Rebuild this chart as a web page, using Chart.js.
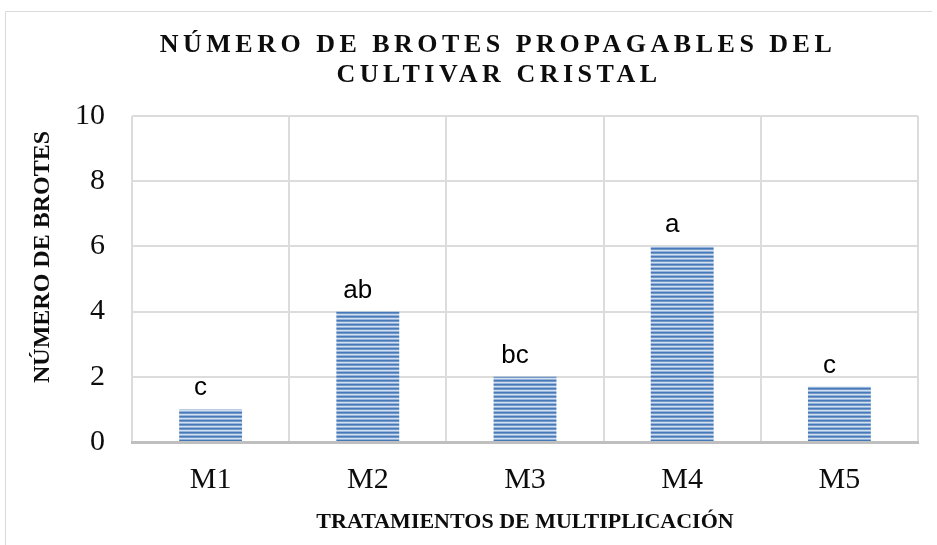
<!DOCTYPE html>
<html>
<head>
<meta charset="utf-8">
<script src="https://cdn.jsdelivr.net/npm/chart.js@4.4.1/dist/chart.umd.min.js"></script>
<style>
  html, body { margin: 0; padding: 0; background: #fff; }
  #wrap { width: 937px; height: 545px; }
</style>
</head>
<body>
<div id="wrap"><canvas id="brotesChart" width="937" height="545"></canvas></div>
<script>
// Brotes propagables por tratamiento
const tratamientos = ['M1', 'M2', 'M3', 'M4', 'M5'];
const brotes = [1.0, 4.0, 2.0, 6.0, 1.7];
const letras = ['c', 'ab', 'bc', 'a', 'c'];
const tituloLineas = ['NÚMERO DE BROTES PROPAGABLES DEL', 'CULTIVAR CRISTAL'];
const tituloEjeY = 'NÚMERO DE BROTES';

// horizontal striped fill for the bars
function stripeFill() {
  const c = document.createElement('canvas');
  c.width = 8;
  c.height = 4;
  const g = c.getContext('2d');
  const rows = ['#4679b8', '#7499c9', '#d2dff0', '#97b5db'];
  rows.forEach((col, i) => {
    g.fillStyle = col;
    g.fillRect(0, i, 8, 1);
  });
  return g.createPattern(c, 'repeat');
}

const serif = '"Liberation Serif", "Times New Roman", serif';

const frame = {
  id: 'frame',
  beforeDraw(chart) {
    const ctx = chart.ctx;
    ctx.save();
    ctx.strokeStyle = '#d9d9d9';
    ctx.lineWidth = 1;
    ctx.beginPath();
    ctx.moveTo(5.5, 545);
    ctx.lineTo(5.5, 11.5);
    ctx.lineTo(932, 11.5);
    ctx.stroke();
    ctx.restore();
  }
};

const textos = {
  id: 'textos',
  afterDraw(chart) {
    const ctx = chart.ctx;
    ctx.save();
    ctx.fillStyle = '#0d0d0d';
    ctx.textAlign = 'center';
    ctx.textBaseline = 'alphabetic';
    ctx.font = 'bold 26px ' + serif;
    ctx.letterSpacing = '4.5px';
    ctx.fillText(tituloLineas[0], 498, 52);
    ctx.fillText(tituloLineas[1], 499, 82);
    ctx.letterSpacing = '0px';
    // vertical axis title
    ctx.translate(43, 257);
    ctx.rotate(-Math.PI / 2);
    ctx.textBaseline = 'middle';
    ctx.font = 'bold 24px ' + serif;
    ctx.fillText(tituloEjeY, 0, 0);
    ctx.restore();
  }
};

const barLetters = {
  id: 'barLetters',
  afterDatasetsDraw(chart) {
    const ctx = chart.ctx;
    const meta = chart.getDatasetMeta(0);
    ctx.save();
    ctx.font = '26px "Liberation Sans", Arial, sans-serif';
    ctx.fillStyle = '#000';
    ctx.textAlign = 'center';
    ctx.textBaseline = 'alphabetic';
    meta.data.forEach((bar, i) => {
      ctx.fillText(letras[i], bar.x - 10, bar.y - 14);
    });
    ctx.restore();
  }
};

new Chart(document.getElementById('brotesChart'), {
  type: 'bar',
  data: {
    labels: tratamientos,
    datasets: [{
      data: brotes,
      backgroundColor: stripeFill(),
      borderWidth: 0,
      barPercentage: 0.4,
      categoryPercentage: 1
    }]
  },
  options: {
    responsive: false,
    animation: false,
    layout: { padding: { top: 116, right: 19, left: 0, bottom: 0 } },
    plugins: {
      legend: { display: false },
      title: { display: false },
      tooltip: { enabled: false }
    },
    scales: {
      x: {
        afterFit: s => { s.height = 103; },
        grid: { color: '#dcdcdc', lineWidth: 2, drawTicks: false },
        border: { color: '#bfbfbf', width: 3 },
        ticks: { font: { family: serif, size: 30 }, color: '#0d0d0d', padding: 20 },
        title: {
          display: true,
          text: 'TRATAMIENTOS DE MULTIPLICACIÓN',
          font: { family: serif, size: 22, weight: 'bold' },
          color: '#0d0d0d',
          padding: { top: 10, bottom: 9 }
        }
      },
      y: {
        min: 0,
        max: 10,
        afterFit: s => { s.width = 132; },
        grid: { color: '#dcdcdc', lineWidth: 2, drawTicks: false },
        border: { display: false },
        ticks: { stepSize: 2, font: { family: serif, size: 30 }, color: '#0d0d0d', padding: 27 }
      }
    }
  },
  plugins: [frame, textos, barLetters]
});
</script>
</body>
</html>
